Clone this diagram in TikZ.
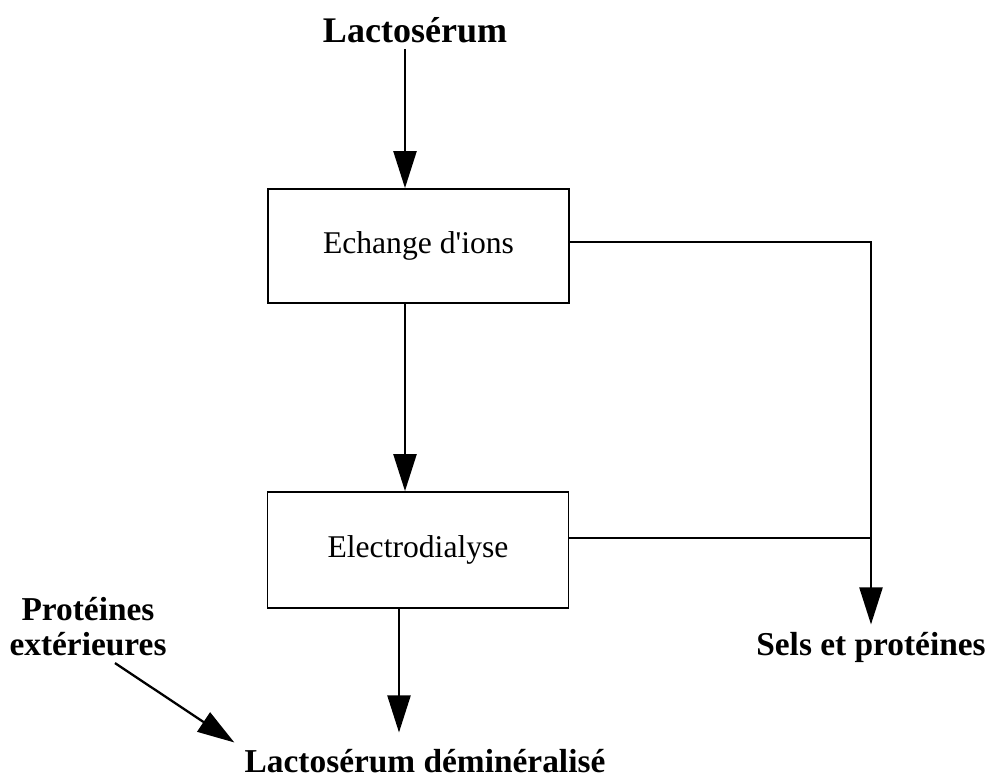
\documentclass[tikz,border=0pt]{standalone}
\usepackage{fontspec}
\setmainfont{Liberation Serif}[Ligatures=TeXOff]
\usetikzlibrary{positioning, calc, arrows.meta}

\begin{document}
\begin{tikzpicture}[x=0.02cm, y=-0.02cm, every node/.style={inner sep=0pt},
    etape/.style={draw, line width=1pt, minimum width=6.02cm, minimum height=2.28cm, font=\fontsize{18}{21}\selectfont},
    produit/.style={font=\bfseries\fontsize{19}{20}\selectfont, align=center},
    fleche/.style={line width=1.3pt, -{Triangle[length=7.4mm, width=4.6mm]}},
    trait/.style={line width=1.2pt}]
    \useasboundingbox (0,0) rectangle (990,781);

    % produits et etapes
    \node[produit, font=\bfseries\fontsize{20.5}{22}\selectfont, anchor=base] (lacto) at (415,42) {Lactosérum};
    \node[etape] (echange) at (418.5,246) {Echange d'ions};
    \node[etape, minimum height=2.32cm] (electro) at (418,550) {Electrodialyse};
    \node[produit, anchor=base] (demin) at (425,772) {Lactosérum déminéralisé};
    \node[produit, anchor=base] (sels) at (871,655) {Sels et protéines};
    \node[produit, anchor=north] (proteines) at (88,597) {Protéines\\extérieures};

    % fleches
    \draw[fleche, shorten <=0.12cm] (lacto.south -| 405,0) -- (echange.north -| 405,0);
    \draw[fleche] (echange.south -| 405,0) -- (electro.north -| 405,0);
    \draw[fleche, shorten >=0.32cm] (electro.south -| 399,0) -- (demin.north -| 399,0);
    \draw[fleche, shorten >=0.14cm] (echange.east |- 0,242) -| (sels.north);
    \draw[trait] (electro.east |- 0,538) -- (sels.north |- 0,538);
    \draw[fleche, shorten <=0.24cm] (proteines.south -| 105,0) -- ([xshift=-0.2cm, yshift=0.12cm]demin.north west);
\end{tikzpicture}
\end{document}
